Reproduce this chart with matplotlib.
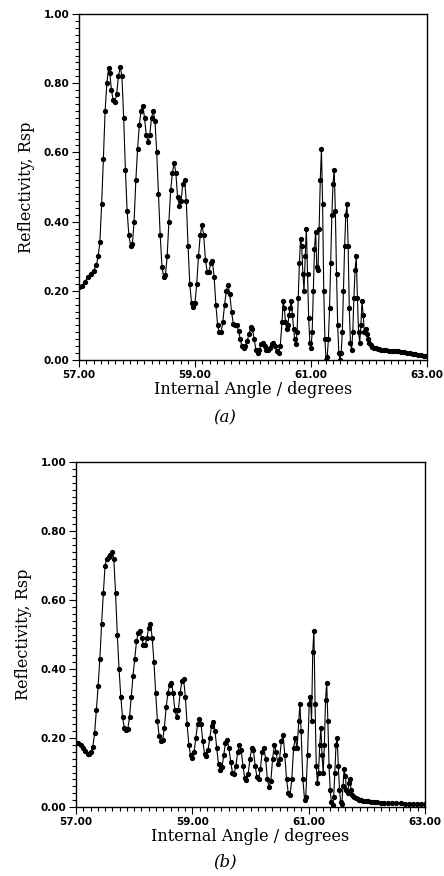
import matplotlib
matplotlib.use("Agg")
import matplotlib.pyplot as plt
from matplotlib.ticker import MultipleLocator, FormatStrFormatter

# Panel (a) data: internal angle (degrees), reflectivity Rsp
angle_a = [57.00, 57.05, 57.10, 57.15, 57.20, 57.25, 57.30, 57.33, 57.36, 57.39, 57.42, 57.45, 57.48, 57.51, 57.53,
           57.56, 57.59, 57.62, 57.65, 57.68, 57.71, 57.74, 57.77, 57.80, 57.83, 57.86, 57.89, 57.92, 57.95, 57.98,
           58.01, 58.04, 58.07, 58.10, 58.13, 58.16, 58.19, 58.22, 58.25, 58.28, 58.31, 58.34, 58.37, 58.40, 58.43,
           58.46, 58.49, 58.52, 58.55, 58.58, 58.61, 58.64, 58.67, 58.70, 58.73, 58.76, 58.79, 58.82, 58.85, 58.88,
           58.91, 58.94, 58.97, 59.00, 59.03, 59.06, 59.09, 59.12, 59.15, 59.18, 59.21, 59.24, 59.27, 59.30, 59.33,
           59.36, 59.39, 59.42, 59.45, 59.48, 59.51, 59.54, 59.57, 59.60, 59.63, 59.66, 59.69, 59.72, 59.75, 59.78,
           59.81, 59.84, 59.87, 59.90, 59.93, 59.96, 59.99, 60.02, 60.05, 60.08, 60.11, 60.14, 60.17, 60.20, 60.23,
           60.26, 60.29, 60.32, 60.35, 60.38, 60.41, 60.44, 60.47, 60.50, 60.52, 60.54, 60.56, 60.58, 60.60, 60.62,
           60.64, 60.66, 60.68, 60.70, 60.72, 60.74, 60.76, 60.78, 60.80, 60.82, 60.84, 60.86, 60.88, 60.90, 60.92,
           60.94, 60.96, 60.98, 61.00, 61.02, 61.04, 61.06, 61.08, 61.10, 61.12, 61.14, 61.16, 61.18, 61.20, 61.22,
           61.24, 61.26, 61.28, 61.30, 61.32, 61.34, 61.36, 61.38, 61.40, 61.42, 61.44, 61.46, 61.48, 61.50, 61.52,
           61.54, 61.56, 61.58, 61.60, 61.62, 61.64, 61.66, 61.68, 61.70, 61.72, 61.74, 61.76, 61.78, 61.80, 61.82,
           61.84, 61.86, 61.88, 61.90, 61.92, 61.94, 61.96, 61.98, 62.00, 62.03, 62.06, 62.09, 62.12, 62.15, 62.18,
           62.21, 62.25, 62.30, 62.35, 62.40, 62.45, 62.50, 62.55, 62.60, 62.65, 62.70, 62.75, 62.80, 62.85, 62.90,
           62.95, 63.00]
rsp_a = [0.210, 0.215, 0.225, 0.240, 0.250, 0.258, 0.275, 0.300, 0.340, 0.450, 0.580, 0.720, 0.800, 0.845, 0.830,
         0.780, 0.750, 0.745, 0.770, 0.820, 0.848, 0.820, 0.700, 0.550, 0.430, 0.360, 0.330, 0.335, 0.400, 0.520,
         0.610, 0.680, 0.720, 0.735, 0.700, 0.650, 0.630, 0.650, 0.700, 0.720, 0.690, 0.600, 0.480, 0.360, 0.270,
         0.240, 0.245, 0.300, 0.400, 0.490, 0.540, 0.570, 0.540, 0.470, 0.445, 0.460, 0.510, 0.520, 0.460, 0.330,
         0.220, 0.165, 0.152, 0.165, 0.220, 0.300, 0.360, 0.390, 0.360, 0.290, 0.255, 0.255, 0.280, 0.285, 0.240,
         0.160, 0.100, 0.080, 0.080, 0.110, 0.160, 0.200, 0.217, 0.190, 0.140, 0.105, 0.100, 0.100, 0.085, 0.060,
         0.040, 0.034, 0.040, 0.055, 0.075, 0.095, 0.090, 0.060, 0.030, 0.020, 0.030, 0.045, 0.048, 0.040, 0.030,
         0.028, 0.035, 0.045, 0.050, 0.040, 0.025, 0.020, 0.040, 0.110, 0.170, 0.150, 0.110, 0.090, 0.100, 0.130,
         0.150, 0.170, 0.130, 0.090, 0.060, 0.045, 0.080, 0.180, 0.280, 0.350, 0.330, 0.250, 0.200, 0.300, 0.380,
         0.250, 0.120, 0.050, 0.035, 0.080, 0.200, 0.320, 0.370, 0.270, 0.260, 0.380, 0.520, 0.610, 0.450, 0.200,
         0.060, 0.000, 0.010, 0.060, 0.150, 0.280, 0.420, 0.510, 0.550, 0.430, 0.250, 0.100, 0.020, 0.000, 0.020,
         0.080, 0.200, 0.330, 0.420, 0.450, 0.330, 0.150, 0.050, 0.030, 0.080, 0.180, 0.260, 0.300, 0.180, 0.080,
         0.050, 0.100, 0.170, 0.130, 0.080, 0.090, 0.075, 0.060, 0.048, 0.043, 0.039, 0.036, 0.034, 0.032, 0.031,
         0.030, 0.029, 0.028, 0.027, 0.026, 0.026, 0.025, 0.024, 0.022, 0.021, 0.020, 0.018, 0.016, 0.015, 0.014,
         0.013, 0.012]

# Panel (b) data
angle_b = [57.00, 57.04, 57.08, 57.12, 57.16, 57.20, 57.23, 57.26, 57.29, 57.32, 57.35, 57.38, 57.41, 57.44, 57.47,
           57.50, 57.53, 57.56, 57.59, 57.62, 57.65, 57.68, 57.71, 57.74, 57.77, 57.80, 57.83, 57.86, 57.89, 57.92,
           57.95, 57.98, 58.01, 58.04, 58.07, 58.10, 58.13, 58.16, 58.19, 58.22, 58.25, 58.28, 58.31, 58.34, 58.37,
           58.40, 58.43, 58.46, 58.49, 58.52, 58.55, 58.58, 58.61, 58.64, 58.67, 58.70, 58.73, 58.76, 58.79, 58.82,
           58.85, 58.88, 58.91, 58.94, 58.97, 59.00, 59.03, 59.06, 59.09, 59.12, 59.15, 59.18, 59.21, 59.24, 59.27,
           59.30, 59.33, 59.36, 59.39, 59.42, 59.45, 59.48, 59.51, 59.54, 59.57, 59.60, 59.63, 59.66, 59.69, 59.72,
           59.75, 59.78, 59.81, 59.84, 59.87, 59.90, 59.93, 59.96, 59.99, 60.02, 60.05, 60.08, 60.11, 60.14, 60.17,
           60.20, 60.23, 60.26, 60.29, 60.32, 60.35, 60.38, 60.41, 60.44, 60.47, 60.50, 60.53, 60.56, 60.59, 60.62,
           60.65, 60.68, 60.71, 60.74, 60.77, 60.80, 60.83, 60.85, 60.87, 60.90, 60.93, 60.95, 60.98, 61.01, 61.03,
           61.05, 61.07, 61.09, 61.11, 61.13, 61.15, 61.17, 61.19, 61.21, 61.23, 61.25, 61.27, 61.29, 61.31, 61.33,
           61.35, 61.37, 61.39, 61.41, 61.43, 61.45, 61.47, 61.49, 61.51, 61.53, 61.55, 61.57, 61.59, 61.61, 61.63,
           61.65, 61.67, 61.69, 61.71, 61.73, 61.75, 61.78, 61.81, 61.84, 61.87, 61.90, 61.94, 61.98, 62.02, 62.07,
           62.12, 62.18, 62.24, 62.30, 62.37, 62.44, 62.51, 62.58, 62.65, 62.72, 62.79, 62.86, 62.93, 63.00]
rsp_b = [0.185, 0.185, 0.180, 0.172, 0.163, 0.155, 0.153, 0.158, 0.175, 0.215, 0.280, 0.350, 0.430, 0.530, 0.620,
         0.700, 0.720, 0.725, 0.730, 0.740, 0.720, 0.620, 0.500, 0.400, 0.320, 0.260, 0.230, 0.222, 0.225, 0.260,
         0.320, 0.380, 0.430, 0.480, 0.505, 0.510, 0.490, 0.470, 0.470, 0.490, 0.520, 0.530, 0.490, 0.420, 0.330,
         0.250, 0.205, 0.190, 0.195, 0.230, 0.290, 0.330, 0.355, 0.360, 0.330, 0.280, 0.262, 0.280, 0.330, 0.365,
         0.370, 0.320, 0.240, 0.180, 0.150, 0.142, 0.160, 0.200, 0.240, 0.255, 0.240, 0.190, 0.155, 0.148, 0.165,
         0.200, 0.235, 0.245, 0.220, 0.170, 0.125, 0.107, 0.115, 0.150, 0.185, 0.193, 0.170, 0.130, 0.100, 0.097,
         0.120, 0.160, 0.180, 0.165, 0.120, 0.085, 0.077, 0.095, 0.140, 0.170, 0.165, 0.120, 0.087, 0.082, 0.110,
         0.160, 0.172, 0.140, 0.080, 0.058, 0.075, 0.140, 0.180, 0.160, 0.125, 0.140, 0.190, 0.210, 0.150, 0.080,
         0.040, 0.035, 0.080, 0.170, 0.200, 0.170, 0.250, 0.300, 0.220, 0.080, 0.020, 0.030, 0.150, 0.300, 0.320,
         0.250, 0.450, 0.510, 0.300, 0.120, 0.070, 0.100, 0.180, 0.230, 0.150, 0.100, 0.180, 0.310, 0.360, 0.250,
         0.120, 0.050, 0.015, 0.005, 0.030, 0.100, 0.180, 0.200, 0.120, 0.050, 0.015, 0.010, 0.060, 0.110, 0.090,
         0.050, 0.040, 0.070, 0.080, 0.050, 0.035, 0.030, 0.026, 0.023, 0.021, 0.019, 0.018, 0.017, 0.016, 0.015,
         0.014, 0.014, 0.013, 0.013, 0.012, 0.012, 0.011, 0.011, 0.010, 0.010, 0.009, 0.009, 0.008, 0.008]

x_ticks = [57.0, 59.0, 61.0, 63.0]
y_ticks = [0.0, 0.2, 0.4, 0.6, 0.8, 1.0]
x_label = "Internal Angle / degrees"
y_label = "Reflectivity, Rsp"

W, H = 444, 876
fig = plt.figure(figsize=(W / 100, H / 100), dpi=100)

panels = [
    (angle_a, rsp_a, (79, 14, 427, 360), "(a)", 418),
    (angle_b, rsp_b, (76, 462, 425, 807), "(b)", 862),
]

for ang, r, (l, t, rgt, b), cap, cap_y in panels:
    ax = fig.add_axes([l / W, 1 - b / H, (rgt - l) / W, (b - t) / H])
    ax.plot(ang, r, color="black", lw=0.8, marker="o", ms=2.8, mfc="black", mec="black")
    ax.set_xlim(57, 63)
    ax.set_ylim(0, 1)
    ax.set_xticks(x_ticks)
    ax.set_yticks(y_ticks)
    ax.xaxis.set_minor_locator(MultipleLocator(0.125))
    ax.yaxis.set_minor_locator(MultipleLocator(0.02))
    ax.xaxis.set_major_formatter(FormatStrFormatter("%.2f"))
    ax.yaxis.set_major_formatter(FormatStrFormatter("%.2f"))
    ax.tick_params(which="both", direction="out", top=False, right=False, width=0.8, color="black")
    ax.tick_params(which="major", length=5, pad=2)
    ax.tick_params(which="minor", length=3)
    for lab in ax.get_xticklabels() + ax.get_yticklabels():
        lab.set_fontfamily("DejaVu Sans")
        lab.set_fontsize(7.5)
        lab.set_fontweight("bold")
    for s in ax.spines.values():
        s.set_linewidth(1.0)
    ax.set_xlabel(x_label, family="DejaVu Serif", fontsize=11.5, labelpad=1)
    ax.set_ylabel(y_label, family="DejaVu Serif", fontsize=11.5, labelpad=6)
    fig.text(225 / W, 1 - cap_y / H, cap, family="DejaVu Serif", style="italic",
             fontsize=12, ha="center", va="center")

fig.savefig("out.png", dpi=100)
